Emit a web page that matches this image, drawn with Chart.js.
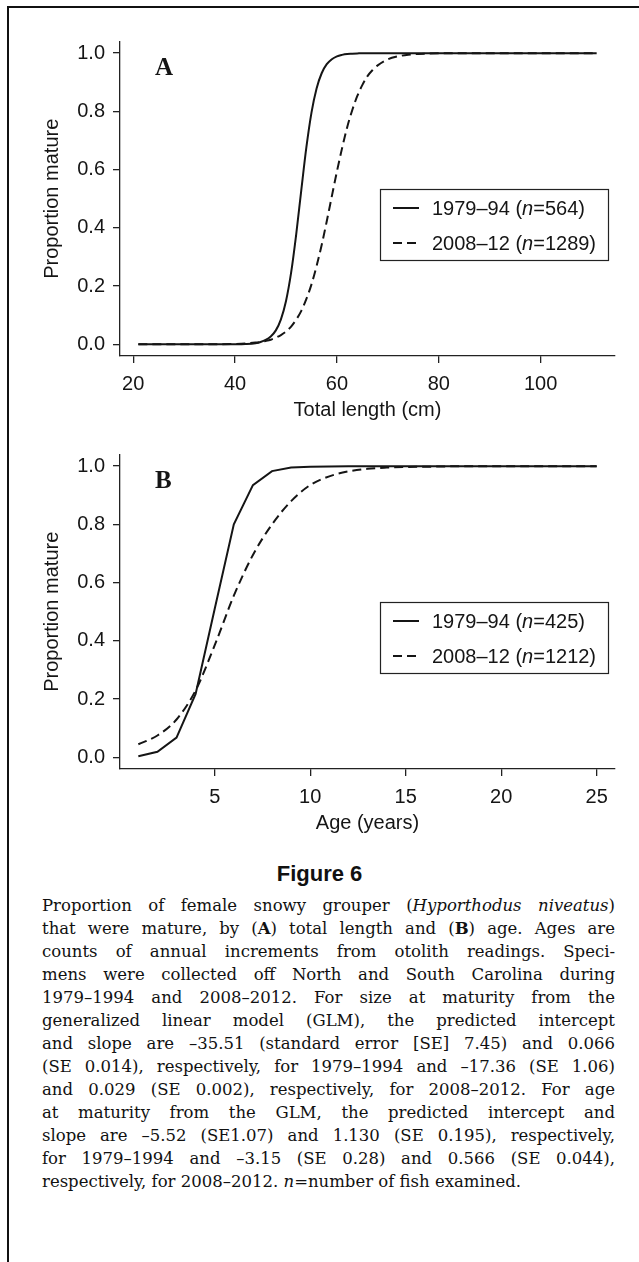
<!DOCTYPE html>
<html><head><meta charset="utf-8">
<script src="https://cdn.jsdelivr.net/npm/chart.js@4.4.1/dist/chart.umd.min.js"></script>
<style>
html,body{margin:0;padding:0;background:#fff;}
body{width:639px;height:1262px;position:relative;overflow:hidden;}
#frame{position:absolute;left:7px;top:6px;width:700px;height:1400px;border-top:2px solid #111;border-left:2px solid #111;}
.wrap{position:absolute;left:0;width:639px;height:430px;}
#wrapA{top:0}
#wrapB{top:413px}
#figt{position:absolute;top:861px;left:0;width:639px;text-align:center;font:bold 22px "Liberation Sans",Arial,sans-serif;color:#111;}
#cap{position:absolute;left:42px;top:894px;width:573px;font-family:"DejaVu Serif",serif;font-size:16.5px;line-height:23px;color:#111;}
#cap div{text-align:justify;text-align-last:justify;}
#cap div.last{text-align-last:left;}
</style></head>
<body>
<div id="frame"></div>
<div class="wrap" id="wrapA"><canvas id="cA" width="639" height="430"></canvas></div>
<div class="wrap" id="wrapB"><canvas id="cB" width="639" height="430"></canvas></div>
<div id="figt">Figure 6</div>
<div id="cap">
<div>Proportion of female snowy grouper (<i>Hyporthodus niveatus</i>)</div>
<div>that were mature, by (<b>A</b>) total length and (<b>B</b>) age. Ages are</div>
<div>counts of annual increments from otolith readings. Speci-</div>
<div>mens were collected off North and South Carolina during</div>
<div>1979–1994 and 2008–2012. For size at maturity from the</div>
<div>generalized linear model (GLM), the predicted intercept</div>
<div>and slope are –35.51 (standard error [SE] 7.45) and 0.066</div>
<div>(SE 0.014), respectively, for 1979–1994 and –17.36 (SE 1.06)</div>
<div>and 0.029 (SE 0.002), respectively, for 2008–2012. For age</div>
<div>at maturity from the GLM, the predicted intercept and</div>
<div>slope are –5.52 (SE1.07) and 1.130 (SE 0.195), respectively,</div>
<div>for 1979–1994 and –3.15 (SE 0.28) and 0.566 (SE 0.044),</div>
<div class="last">respectively, for 2008–2012. <i>n</i>=number of fish examined.</div>
</div>
<script>
// ---- Panel A: total length (cm) ----
const lengthA = [21,30,36,40,42,44,45,46,47,48,49,50,51,52,53,54,55,56,57,58,59,60,61,62,63,64,65,66,67,68,70,72,74,76,78,80,85,90,100,111];
const early_A = [0,0,0.0001,0.0004,0.0012,0.004,0.008,0.015,0.027,0.048,0.086,0.149,0.246,0.378,0.530,0.677,0.796,0.879,0.931,0.962,0.979,0.989,0.994,0.997,0.998,0.999,1,1,1,1,1,1,1,1,1,1,1,1,1,1];
const late_A  = [0,0,0.0004,0.0015,0.003,0.006,0.008,0.0115,0.016,0.023,0.032,0.044,0.061,0.085,0.115,0.156,0.206,0.269,0.341,0.423,0.509,0.594,0.673,0.745,0.804,0.853,0.891,0.921,0.942,0.958,0.979,0.989,0.9946,0.9973,0.9986,0.9993,0.9999,1,1,1];
const countsA = [564, 1289];
const xTicksA = [20,40,60,80,100];

// ---- Panel B: age (years) ----
const ageB = [1,2,3,4,5,6,7,8,9,10,11,12,13,14,15,16,17,18,19,20,21,22,23,24,25];
const early_B = [0.004,0.019,0.068,0.218,0.51,0.80,0.935,0.983,0.995,0.998,0.999,1,1,1,1,1,1,1,1,1,1,1,1,1,1];
const late_B  = [0.045,0.075,0.13,0.23,0.385,0.555,0.695,0.80,0.88,0.935,0.965,0.982,0.991,0.995,0.997,0.998,0.999,1,1,1,1,1,1,1,1];
const countsB = [425, 1212];
const xTicksB = [5,10,15,20,25];

const periods = ['1979–94','2008–12'];
const yTicks = [0,0.2,0.4,0.6,0.8,1.0];

const INK = '#151515';
const FONT = '"Liberation Sans", Arial, sans-serif';

const boxLegend = {
  id:'boxLegend',
  afterDraw(chart, args, o){
    const {ctx, chartArea:ca} = chart;
    ctx.save();
    ctx.fillStyle = INK;
    ctx.font = 'bold 25px "Liberation Serif", "Times New Roman", serif';
    ctx.textBaseline = 'alphabetic';
    ctx.textAlign = 'left';
    ctx.fillText(o.letter, ca.left + 35, ca.top + 33);
    const x0 = Math.round(ca.right - 7 - o.width), y0 = Math.round(ca.top + 147);
    ctx.strokeStyle = '#222'; ctx.lineWidth = 1.2;
    ctx.strokeRect(x0 + 0.5, y0 + 0.5, o.width, o.height);
    chart.data.datasets.forEach((ds, i) => {
      const cy = y0 + o.rows[i];
      ctx.beginPath();
      ctx.setLineDash(ds.borderDash || []);
      ctx.lineWidth = ds.borderWidth; ctx.strokeStyle = ds.borderColor;
      ctx.moveTo(x0 + 13, cy); ctx.lineTo(x0 + 39, cy); ctx.stroke();
      ctx.setLineDash([]);
      ctx.fillStyle = INK; ctx.textBaseline = 'middle';
      const parts = [[o.periods[i] + ' (', false], ['n', true], ['=' + o.counts[i] + ')', false]];
      let x = x0 + 52;
      parts.forEach(([t, it]) => {
        ctx.font = (it ? 'italic ' : '') + '20px ' + FONT;
        ctx.fillText(t, x, cy + 1);
        x += ctx.measureText(t).width;
      });
    });
    ctx.restore();
  }
};

function makeChart(id, xs, s1, s2, xTicks, xmin, xmax, xTitle, letter, counts, smoothSolid){
  const pts = arr => xs.map((x, i) => ({x: x, y: arr[i]}));
  return new Chart(document.getElementById(id), {
    type: 'line',
    data: { datasets: [
      {label: periods[0], data: pts(s1), borderColor: INK, borderWidth: 2, pointRadius: 0,
       cubicInterpolationMode: smoothSolid ? 'monotone' : 'default', tension: 0, fill: false},
      {label: periods[1], data: pts(s2), borderColor: INK, borderWidth: 2, pointRadius: 0,
       borderDash: [9, 5], cubicInterpolationMode: 'monotone', fill: false}
    ]},
    plugins: [boxLegend],
    options: {
      responsive: false, animation: false, devicePixelRatio: 1,
      layout: {padding: {left: 36, top: 41.5, right: 24, bottom: 0}},
      plugins: {legend: {display: false}, tooltip: {enabled: false},
        boxLegend: {letter: letter, periods: periods, counts: counts, width: 228, height: 71, rows: [19, 54]}},
      scales: {
        x: {type: 'linear', min: xmin, max: xmax,
          afterBuildTicks: s => { s.ticks = xTicks.map(v => ({value: v})); },
          afterFit: s => { s.height = 74; },
          grid: {display: true, drawOnChartArea: false, drawTicks: true, tickLength: 7, color: '#222', lineWidth: 1.3},
          border: {display: true, color: '#222', width: 1.3},
          ticks: {font: {family: FONT, size: 20}, color: INK, padding: 9, maxRotation: 0, autoSkip: false, callback: v => String(v)},
          title: {display: true, text: xTitle, font: {family: FONT, size: 20}, color: INK, padding: {top: 0, bottom: 8}}
        },
        y: {type: 'linear', min: -0.04, max: 1.04,
          afterBuildTicks: s => { s.ticks = yTicks.map(v => ({value: v})); },
          afterFit: s => { s.width = 84; },
          grid: {display: true, drawOnChartArea: false, drawTicks: true, tickLength: 7, color: '#222', lineWidth: 1.3},
          border: {display: true, color: '#222', width: 1.3},
          ticks: {font: {family: FONT, size: 20}, color: INK, padding: 8, autoSkip: false, callback: v => Number(v).toFixed(1)},
          title: {display: true, text: 'Proportion mature', font: {family: FONT, size: 20}, color: INK, padding: {top: 4, bottom: 0}}
        }
      }
    }
  });
}

makeChart('cA', lengthA, early_A, late_A, xTicksA, 17.4, 114.6, 'Total length (cm)', 'A', countsA, true);
makeChart('cB', ageB, early_B, late_B, xTicksB, 0.04, 25.96, 'Age (years)', 'B', countsB, false);
</script>
</body></html>
